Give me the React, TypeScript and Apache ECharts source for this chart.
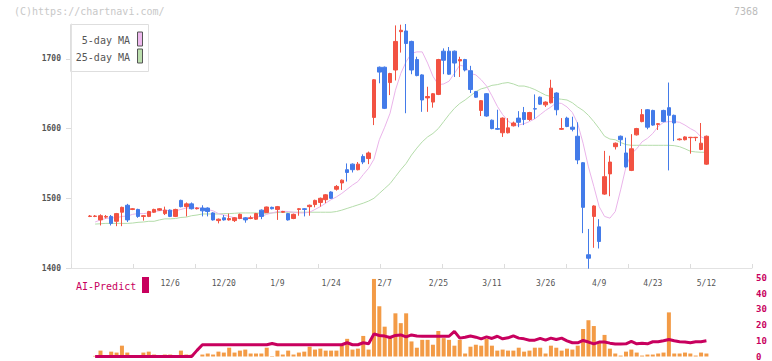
import React, { useEffect, useRef } from 'react';
import * as echarts from 'echarts';

const dates = [
  '11/15','11/18','11/19','11/20','11/21','11/22','11/25','11/26','11/27','11/28',
  '11/29','12/2','12/3','12/4','12/5','12/6','12/9','12/10','12/11','12/12',
  '12/13','12/16','12/17','12/18','12/19','12/20','12/23','12/24','12/25','12/26',
  '12/27','12/30','1/6','1/7','1/8','1/9','1/10','1/14','1/15','1/16',
  '1/17','1/20','1/21','1/22','1/23','1/24','1/27','1/28','1/29','1/30',
  '1/31','2/3','2/4','2/5','2/6','2/7','2/10','2/12','2/13','2/14',
  '2/17','2/18','2/19','2/20','2/21','2/25','2/26','2/27','2/28','3/3',
  '3/4','3/5','3/6','3/7','3/10','3/11','3/12','3/13','3/14','3/17',
  '3/18','3/19','3/21','3/24','3/25','3/26','3/27','3/28','3/31','4/1',
  '4/2','4/3','4/4','4/7','4/8','4/9','4/10','4/11','4/14','4/15',
  '4/16','4/17','4/18','4/21','4/22','4/23','4/24','4/25','4/28','4/30',
  '5/1','5/2','5/7','5/8','5/9','5/12'
];

const opens = [
  1474,1474,1469,1473,1474,1467,1480,1490,1484,1484,
  1474,1474,1480,1483,1478,1483,1474,1497,1488,1492,
  1485,1486,1486,1479,1468,1472,1469,1468,1471,1472,
  1471,1470,1483,1479.5,1487,1484,1480,1478,1471,1484,
  1485,1488,1491,1494,1498,1509,1513,1522,1541,1549,
  1541,1560,1557,1616,1688,1688,1666,1684,1739,1740,
  1725,1699,1677,1644,1638,1649,1711,1711,1711,1697,
  1699,1683,1653,1626,1650,1612,1600,1594,1594,1604,
  1615,1623,1613,1628.5,1645,1634,1637,1651,1599,1615,
  1602,1589,1551,1419,1474,1459,1506,1535,1574,1589,
  1565,1540,1591,1610,1627,1626,1606,1626,1630,1619,
  1584,1584,1587,1587,1570,1549
];
const closes = [
  1474.5,1474.5,1475,1474,1464,1478,1487,1469,1485,1474,
  1475,1481,1484,1485,1483,1474,1484,1488,1492,1485,
  1486,1482,1481,1469,1470,1469,1471,1472,1477,1469,
  1472,1478,1474,1487.5,1485,1488,1481,1469,1477,1485,
  1484,1490,1497,1500,1505,1500,1517,1526,1537,1541,
  1549,1552,1565,1670,1681,1629,1679,1725,1741,1722,
  1684,1676,1641,1646,1650,1699,1698,1678,1694,1699,
  1684,1656,1645,1640,1618,1600,1599,1615,1601,1608,
  1609,1613,1623,1628,1635,1638,1658,1627,1600,1603,
  1599,1555,1487,1414,1489,1438,1531,1552,1579,1584,
  1545,1571,1600,1620,1602,1605,1607,1610,1619,1608,
  1585,1588,1587.5,1587.5,1579,1589
];
const lows = [
  1473,1473,1461,1471,1461,1460,1460,1466,1483,1472,
  1468,1473,1479,1482,1476,1473,1473,1487,1474,1484,
  1484,1474,1474,1468,1464,1468,1468,1466,1470,1465,
  1470,1469,1470,1479,1484,1469,1479,1468,1470,1475,
  1474,1475,1487,1488,1493,1499,1511,1512,1524,1537,
  1540,1549,1549,1605,1665,1628,1648,1669,1709,1622,
  1678,1675,1624,1624,1630,1648,1678,1677,1674,1674,
  1682,1651,1644,1618,1617,1599,1598,1588,1593,1603,
  1602,1605,1611,1614,1634,1631,1636,1619,1598,1602,
  1596,1549,1450,1399,1429,1428,1505,1503,1570,1575,
  1544,1539,1590,1609,1599,1604,1598,1609,1540,1582,
  1583,1583,1564,1582,1569,1548
];
const highs = [
  1476,1476,1477,1476,1476,1479,1488,1492,1486,1485,
  1476,1482,1485,1486,1488,1484,1485,1498,1494,1494,
  1487,1490,1487,1480,1471,1476,1478,1473,1478,1473,
  1475,1479,1484,1488,1488,1489,1482,1479,1478,1486,
  1486,1491,1498,1501,1506,1510,1519,1527,1550,1550,
  1552,1563,1567,1671,1689,1689,1680,1748,1749,1750,
  1726,1703,1678,1660,1651,1700,1715,1717,1712,1703,
  1700,1690,1654,1641,1651,1613,1627,1616,1615,1610,
  1625,1631,1624,1649,1646,1639,1670,1652,1615,1617,
  1617,1609,1552,1456,1490,1470,1568,1561,1580,1590,
  1587,1592,1601,1628,1628,1627,1608,1627,1666,1620,
  1586,1589,1588,1588,1608,1590
];
const ma5 = [
  null,1466,1469,1471,1472,1472,1474,1474.5,1477,1478,
  1478,1479,1481,1482,1483,1482,1482,1484,1486,1486,
  1486.5,1486,1484,1482,1478,1476,1474,1472,1471,1471,
  1472,1473,1474,1477,1479,1481,1481.5,1481,1480,1479,
  1479,1480,1484,1488,1493,1498,1502,1507,1513,1519,
  1524,1534,1543,1556,1584,1602,1622,1655,1679,1696,
  1708,1710,1710,1694,1675,1663,1664,1668,1679,1691,
  1689,1679,1677,1670,1661,1647,1632,1620,1611,1605,
  1605,1607,1610,1614,1620,1626,1631,1637,1636,1631,
  1623,1607,1579,1545,1517,1488,1474,1471.5,1481,1512,
  1545,1564,1571,1581,1586,1593,1603,1609,1610,1610,
  1609,1605,1600,1596,1588,1585
];
const ma25 = [
  null,1463,1463.5,1464,1464,1464,1464,1464,1464.5,1465.5,
  1466,1467,1467,1469,1470.5,1470.5,1471,1472.5,1473,1475,
  1476,1477.5,1477.5,1477.5,1477.5,1478,1478,1478.5,1479,1479,
  1479,1479,1478.5,1478.5,1479,1479.5,1480,1480,1480,1480,
  1480,1480,1480,1480,1480,1480,1481,1483,1485.5,1488,
  1490.5,1493,1496,1500,1507,1514,1521,1531,1541,1550,
  1562,1572,1581,1588,1593,1600,1610,1620,1629,1636,
  1641,1647,1653,1657,1659,1662,1663,1665,1666,1664,
  1661,1661,1659,1656,1652,1648,1646,1643,1642,1641,
  1637,1631,1626,1619,1610,1600,1589,1585,1584,1580,
  1577,1576,1576,1576,1576,1576,1576,1576,1576,1575.5,
  1574,1571,1567.5,1566.5,1566,1566
];
const volume = [
  0,0.4,3.75,0,3.1,2.5,6.9,2.5,0,0,
  2.5,3.1,1.25,0,1.25,1.25,0,3.75,1.25,1.25,
  0,1.25,1.9,1.25,3.1,2.5,5.6,2.5,3.75,4.4,
  1.9,1.9,1.9,5.6,0.3,3.75,1.25,3.75,1.25,2.5,
  3.1,6.25,4.4,5,3.75,3.75,3.75,6.9,11.25,4.4,
  5,13.1,4.4,49.4,32,19,11.7,27.5,21.25,27.5,
  9.6,5.6,10.6,10.6,7.5,16.25,11.7,10.6,6.9,10.6,
  1.9,6.25,7.5,6.9,11.25,6.9,3.75,4.4,3.75,3.75,
  5.6,3.1,3.75,5.6,5.6,1.9,6.9,5.6,3.75,5,
  4.4,6.9,17.5,23.1,19.4,8.75,13.75,5,1.9,0.6,
  3.1,4.4,2.5,0.6,1.25,1.25,1.9,2.5,28.1,1.9,
  1.9,2.5,1.9,0.6,2.5,1.9
];
const aiPredict = [
  null,0,0,0,0,0,0,0,0,0,
  0,0,0,0,0,0,0,0,0,0,
  3.9,7.5,7.5,7.5,7.5,7.5,7.5,7.5,7.5,7.5,
  7.5,7.5,7.5,7.5,8.3,7.5,7.5,7.5,7.5,7.5,
  7.5,7.5,7.5,7.5,7.5,7.5,7.5,7.5,8.75,7.5,
  7.5,8.75,8.1,14.4,13.4,13,12.1,13.4,13.75,12.5,
  13.75,13.1,12.9,12.9,12.9,12.9,12.9,12.9,16,11.7,
  12.3,13.1,12.3,11.25,12.5,11.5,12.9,11.25,11.9,13.1,
  11.7,11.25,10.4,10.4,11.5,10.4,11.7,10.8,11.7,10,
  8.75,8.75,10.2,9.2,8,9.2,9.2,8.5,8,8,
  8.1,9.6,8.1,8.5,8.1,9.4,9.4,10,10.8,10,
  9.4,9.2,8.75,9.4,9.4,10
];

const dateLabels = ['12/6','12/20','1/9','1/24','2/7','2/25','3/11','3/26','4/9','4/23','5/12'];
const priceTicks = [1400, 1500, 1600, 1700];
const LEAD = 3;
const TRAIL = 8;
const TICK_SECTIONS = 11;

const MONO = '"DejaVu Sans Mono", "Liberation Mono", monospace';
const RED = '#f25242';
const BLUE = '#437be9';
const ORANGE = '#f39b46';
const CRIMSON = '#c8005e';

export default function App() {
  const ref = useRef<HTMLDivElement>(null);

  useEffect(() => {
    if (!ref.current) return;
    const chart = echarts.init(ref.current, null, { renderer: 'svg' });

    const cats = [
      ...Array.from({ length: LEAD }, (_, i) => `lead${i}`),
      ...dates,
      ...Array.from({ length: TRAIL }, (_, i) => `trail${i}`),
    ];
    const lead = (arr: any[]) => [...Array(LEAD).fill('-'), ...arr.map((v) => (v === null ? '-' : v))];
    const ohlc = dates.map((_, i) => [opens[i], closes[i], lows[i], highs[i]]);

    const option: any = {
      animation: false,
      grid: [
        { left: 71, right: 20, top: 24, height: 244 },
        { left: 71, right: 20, top: 278, height: 80 },
      ],
      xAxis: [
        {
          type: 'category',
          gridIndex: 0,
          data: cats,
          boundaryGap: true,
          axisLine: { show: true, lineStyle: { color: '#e2e2e2', width: 1 } },
          axisTick: { show: false },
          axisLabel: {
            interval: (_i: number, v: string) => dateLabels.includes(v),
            color: '#555',
            fontSize: 8,
            fontFamily: MONO,
            margin: 11,
          },
          splitLine: { show: false },
        },
        {
          type: 'value',
          gridIndex: 0,
          position: 'bottom',
          min: 0,
          max: TICK_SECTIONS,
          interval: 1,
          axisLine: { show: false },
          axisTick: { show: true, inside: true, length: 4, lineStyle: { color: '#dcdcdc' } },
          axisLabel: { show: false },
          splitLine: { show: false },
        },
        {
          type: 'category',
          gridIndex: 1,
          data: cats,
          boundaryGap: true,
          show: false,
        },
      ],
      yAxis: [
        {
          type: 'value',
          gridIndex: 0,
          min: 1400,
          max: 1750,
          interval: 50,
          axisLine: { show: true, lineStyle: { color: '#e2e2e2', width: 1 } },
          axisTick: { show: true, length: 5, lineStyle: { color: '#dcdcdc' }, customValues: priceTicks },
          axisLabel: {
            customValues: priceTicks,
            formatter: (v: number) => (v % 100 === 0 ? String(v) : ''),
            color: '#555',
            fontSize: 8,
            fontWeight: 'bold',
            fontFamily: MONO,
            margin: 10,
          },
          splitLine: { show: false },
        },
        {
          type: 'value',
          gridIndex: 1,
          position: 'right',
          min: 0,
          max: 50,
          interval: 10,
          axisLine: { show: false },
          axisTick: { show: false },
          axisLabel: {
            color: CRIMSON,
            fontSize: 9,
            fontWeight: 'bold',
            fontFamily: MONO,
            margin: 4,
          },
          splitLine: { show: false },
        },
      ],
      series: [
        {
          name: '25-day MA',
          type: 'line',
          xAxisIndex: 0,
          yAxisIndex: 0,
          data: lead(ma25),
          showSymbol: false,
          lineStyle: { color: '#b4dcaa', width: 1 },
          z: 1,
        },
        {
          name: '5-day MA',
          type: 'line',
          xAxisIndex: 0,
          yAxisIndex: 0,
          data: lead(ma5),
          showSymbol: false,
          lineStyle: { color: '#eab4ea', width: 1 },
          z: 1,
        },
        {
          type: 'candlestick',
          xAxisIndex: 0,
          yAxisIndex: 0,
          data: lead(ohlc),
          barWidth: 4,
          itemStyle: {
            color: RED,
            color0: BLUE,
            borderColor: RED,
            borderColor0: BLUE,
            borderWidth: 1,
          },
          z: 3,
        },
        {
          type: 'bar',
          xAxisIndex: 2,
          yAxisIndex: 1,
          data: lead(volume),
          barWidth: 4,
          itemStyle: { color: ORANGE },
          z: 2,
        },
        {
          type: 'line',
          xAxisIndex: 2,
          yAxisIndex: 1,
          data: lead(aiPredict),
          showSymbol: false,
          lineStyle: { color: CRIMSON, width: 3 },
          z: 4,
        },
      ],
      graphic: [
        {
          type: 'text',
          left: 14,
          top: 6,
          style: { text: '(C)https://chartnavi.com/', fill: '#c8c8c8', font: `10px ${MONO}` },
        },
        {
          type: 'text',
          left: 734,
          top: 6,
          style: { text: '7368', fill: '#bcbcbc', font: `10px ${MONO}` },
        },
        {
          type: 'group',
          z: 100,
          children: [
            {
              type: 'rect',
              shape: { x: 70.5, y: 24.5, width: 78, height: 47 },
              style: { fill: '#fff', stroke: '#dedede', lineWidth: 1 },
            },
            {
              type: 'text',
              x: 130,
              y: 40,
              style: { text: '5-day MA', fill: '#555', font: `10px ${MONO}`, align: 'right', verticalAlign: 'middle' },
            },
            {
              type: 'rect',
              shape: { x: 137.5, y: 32, width: 5, height: 14 },
              style: { fill: '#eeb9ee', stroke: '#555', lineWidth: 1 },
            },
            {
              type: 'text',
              x: 130,
              y: 57,
              style: { text: '25-day MA', fill: '#555', font: `10px ${MONO}`, align: 'right', verticalAlign: 'middle' },
            },
            {
              type: 'rect',
              shape: { x: 137.5, y: 49, width: 5, height: 14 },
              style: { fill: '#bcdfae', stroke: '#555', lineWidth: 1 },
            },
          ],
        },
        {
          type: 'text',
          x: 76,
          y: 286,
          style: { text: 'AI-Predict', fill: CRIMSON, font: `10px ${MONO}`, verticalAlign: 'middle' },
        },
        {
          type: 'rect',
          shape: { x: 142, y: 277, width: 7, height: 16 },
          style: { fill: CRIMSON },
        },
      ],
    };

    chart.setOption(option);
    return () => chart.dispose();
  }, []);

  return <div ref={ref} style={{ position: 'absolute', left: 0, top: 0, width: 772, height: 361 }} />;
}
